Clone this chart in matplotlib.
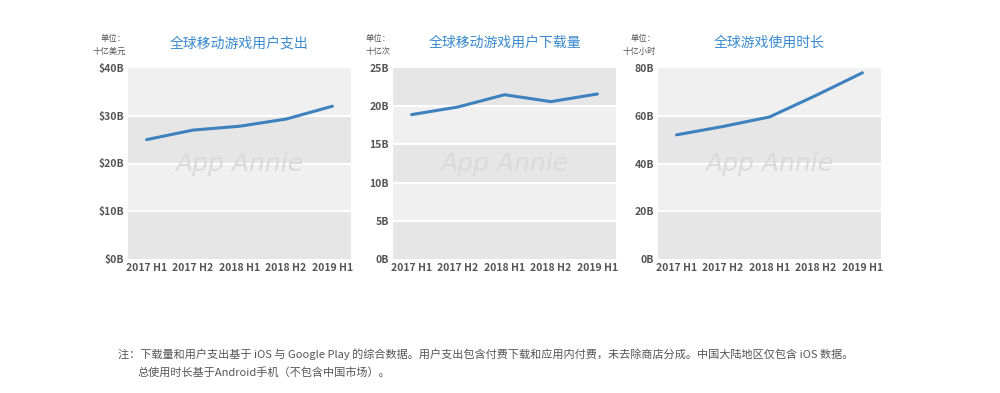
import matplotlib
matplotlib.use("Agg")
import matplotlib.pyplot as plt

plt.rcParams["font.family"] = ["Noto Sans CJK SC", "DejaVu Sans"]

periods = ["2017 H1", "2017 H2", "2018 H1", "2018 H2", "2019 H1"]

spend = [25.0, 27.0, 27.8, 29.3, 32.0]
downloads = [18.9, 19.9, 21.5, 20.6, 21.6]
hours = [52.0, 55.5, 59.5, 68.5, 78.0]

titles = ["全球移动游戏用户支出", "全球移动游戏用户下载量", "全球游戏使用时长"]
units = ["单位：\n十亿美元", "单位：\n十亿次", "单位：\n十亿小时"]
yticks = [[0, 10, 20, 30, 40], [0, 5, 10, 15, 20, 25], [0, 20, 40, 60, 80]]
ylabels = [["$0B", "$10B", "$20B", "$30B", "$40B"],
           ["0B", "5B", "10B", "15B", "20B", "25B"],
           ["0B", "20B", "40B", "60B", "80B"]]
series = [spend, downloads, hours]

note1 = "注：下载量和用户支出基于 iOS 与 Google Play 的综合数据。用户支出包含付费下载和应用内付费，未去除商店分成。中国大陆地区仅包含 iOS 数据。"
note2 = "总使用时长基于Android手机（不包含中国市场）。"

LINE = "#3d82be"
TITLE = "#3a8ad0"
TXT = "#555555"
BAND_DARK = "#e6e6e6"
BAND_LIGHT = "#f0f0f0"

fig = plt.figure(figsize=(10, 3.93), dpi=100)
lefts = [0.128, 0.393, 0.658]
width = 0.223
bottom, height = 1 - 259 / 393, 191 / 393

for i in range(3):
    ax = fig.add_axes([lefts[i], bottom, width, height])
    ticks = yticks[i]
    for k in range(len(ticks) - 1):
        ax.axhspan(ticks[k], ticks[k + 1], color=BAND_DARK if k % 2 == 0 else BAND_LIGHT,
                   lw=0, zorder=0)
        if k > 0:
            ax.axhline(ticks[k], color="white", lw=1.5, zorder=1)
    x = range(len(periods))
    ax.plot(x, series[i], color=LINE, lw=2.2, zorder=3, solid_capstyle="round")
    ax.set_xlim(-0.4, len(periods) - 0.6)
    ax.set_ylim(ticks[0], ticks[-1])
    ax.set_yticks(ticks)
    ax.set_yticklabels(ylabels[i])
    ax.set_xticks(list(x))
    ax.set_xticklabels(periods)
    ax.tick_params(length=0, labelsize=7.5, colors=TXT, pad=3)
    for lab in ax.get_xticklabels() + ax.get_yticklabels():
        lab.set_fontweight("bold")
    for s in ax.spines.values():
        s.set_visible(False)
    ax.text(0.5, 0.5, "App Annie", transform=ax.transAxes, ha="center", va="center",
            fontsize=18, style="italic", color="#dadada", family="DejaVu Sans", zorder=2)
    ax.text(0.5, 1.13, titles[i], transform=ax.transAxes, ha="center", va="center",
            fontsize=10, color=TITLE)
    ax.text(-0.01, 1.12, units[i], transform=ax.transAxes, ha="right", va="center",
            fontsize=6, color=TXT, linespacing=1.5)

fig.text(0.118, 0.1, note1, fontsize=8, color=TXT, ha="left", va="center")
fig.text(0.137, 0.053, note2, fontsize=8, color=TXT, ha="left", va="center")

fig.savefig("out.png", dpi=100)
